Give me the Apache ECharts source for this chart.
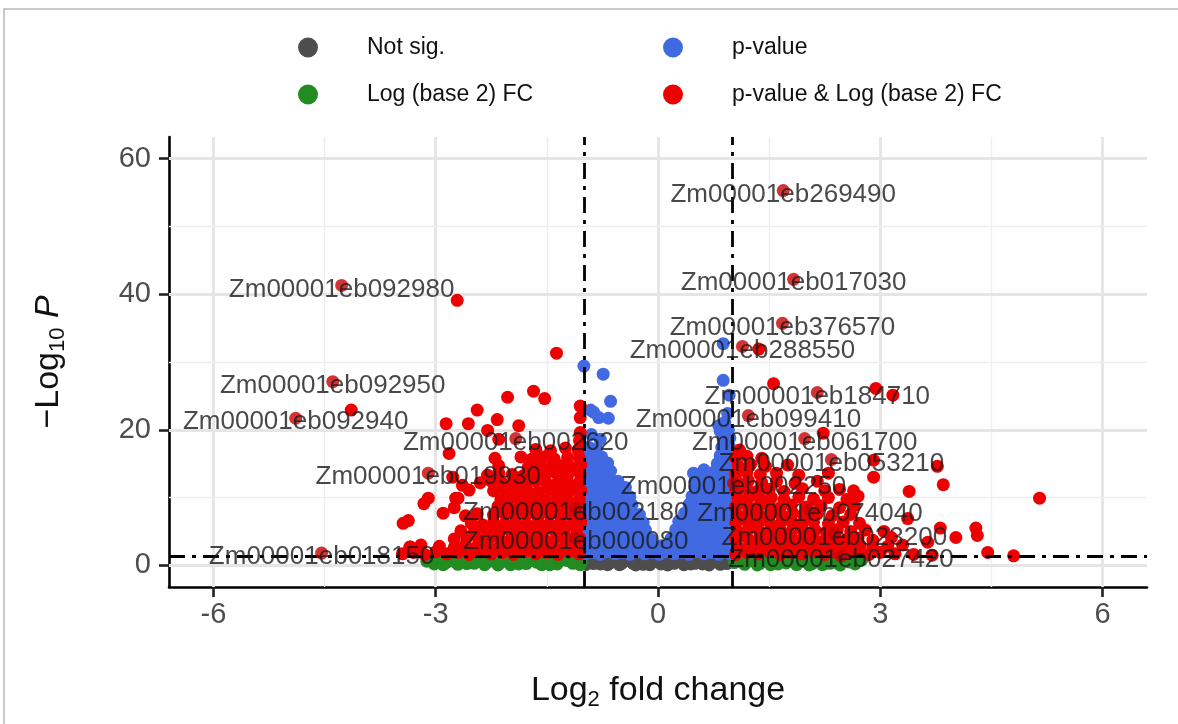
<!DOCTYPE html>
<html><head><meta charset="utf-8">
<script src="https://cdn.jsdelivr.net/npm/echarts@6/dist/echarts.min.js"></script>
<style>html,body{margin:0;padding:0;background:#fff}#c{width:1178px;height:724px}</style>
</head><body><div id="c"></div><script>
const xTicks = [-6, -3, 0, 3, 6];
const yTicks = [0, 20, 40, 60];
const xMinorGrid = [-4.5, -1.5, 1.5, 4.5];
const yMinorGrid = [10, 30, 50];
const fcCut = [-1, 1];
const pCut = 1.3;

const notSig = [
[-0.97,0.12],[-0.9,0.55],[-0.84,1.05],[-0.78,0.2],[-0.71,0.8],[-0.65,0.35],[-0.58,1.15],[-0.52,0.1],[-0.46,0.65],[-0.4,1.0],[-0.33,0.25],[-0.27,0.75],[-0.2,0.15],[-0.14,1.1],[-0.08,0.45],[-0.02,0.9],[0.04,0.2],[0.1,0.6],[0.16,1.05],[0.22,0.3],[0.28,0.8],[0.35,0.1],[0.41,1.2],[0.47,0.5],[0.53,0.9],[0.6,0.2],[0.66,1.1],[0.72,0.4],[0.78,0.85],[0.84,0.15],[0.9,1.0],[0.96,0.55],
[-0.94,0.9],[-0.87,0.25],[-0.8,0.6],[-0.74,1.2],[-0.68,0.1],[-0.61,0.5],[-0.55,0.9],[-0.49,0.3],[-0.43,1.2],[-0.36,0.5],[-0.3,0.05],[-0.24,1.2],[-0.17,0.6],[-0.11,0.1],[-0.05,1.25],[0.01,0.5],[0.07,1.2],[0.13,0.05],[0.19,0.7],[0.25,1.2],[0.32,0.5],[0.38,0.9],[0.44,0.2],[0.5,0.3],[0.56,1.25],[0.63,0.7],[0.69,0.05],[0.75,1.2],[0.81,0.5],[0.87,0.6],[0.93,0.25],[0.98,1.0]
];

const fcOnly = [
[-3.12,0.6],[-3.02,0.2],[-2.95,1.0],[-2.86,0.4],[-2.78,0.9],[-2.7,0.15],[-2.62,0.7],[-2.55,1.15],[-2.48,0.3],[-2.41,0.85],[-2.34,0.1],[-2.27,0.6],[-2.2,1.1],[-2.13,0.35],[-2.06,0.8],[-1.99,0.1],[-1.92,0.55],[-1.85,1.2],[-1.78,0.25],[-1.71,0.9],[-1.64,0.45],[-1.57,0.1],[-1.5,1.05],[-1.43,0.6],[-1.36,0.2],[-1.29,1.2],[-1.22,0.7],[-1.15,0.3],[-1.08,1.0],[-1.03,0.5],
[-3.07,1.1],[-2.9,0.1],[-2.74,0.5],[-2.58,0.25],[-2.44,1.2],[-2.3,0.9],[-2.16,0.05],[-2.02,1.2],[-1.88,0.2],[-1.74,0.6],[-1.6,1.2],[-1.46,0.1],[-1.32,0.7],[-1.18,1.15],[-1.05,0.1],
[1.03,0.4],[1.1,1.1],[1.17,0.15],[1.24,0.7],[1.31,1.2],[1.38,0.3],[1.45,0.85],[1.52,0.1],[1.59,0.6],[1.66,1.15],[1.73,0.35],[1.8,0.9],[1.87,0.1],[1.94,0.55],[2.01,1.1],[2.08,0.25],[2.15,0.8],[2.22,0.1],[2.29,0.65],[2.36,1.15],[2.43,0.3],[2.5,0.9],[2.58,0.5],[2.66,0.2],[2.75,0.8],
[1.06,1.2],[1.2,0.5],[1.34,0.05],[1.48,1.2],[1.62,0.2],[1.76,1.2],[1.9,0.6],[2.04,0.05],[2.18,1.2],[2.32,0.3],[2.46,0.05],[2.62,1.0]
];

const pOnly = [
[-0.98,1.7],[-0.88,1.9],[-0.78,1.6],[-0.68,2.0],[-0.58,1.7],[-0.48,1.9],[-0.38,1.6],[-0.28,2.0],[-0.18,1.7],[-0.08,1.9],[0.02,1.6],[0.12,2.0],[0.22,1.7],[0.32,1.9],[0.42,1.6],[0.52,2.0],[0.62,1.7],[0.72,1.9],[0.82,1.6],[0.92,2.0],[0.98,1.7],
[-0.97,3.0],[-0.87,3.2],[-0.77,2.9],[-0.67,3.1],[-0.57,2.9],[-0.47,3.2],[-0.37,3.0],[-0.27,2.8],[-0.17,3.1],[-0.07,2.8],[0.05,2.9],[0.15,3.1],[0.3,3.0],[0.4,3.2],[0.5,2.9],[0.6,3.1],[0.7,2.9],[0.8,3.2],[0.9,3.0],[0.98,3.1],
[-0.97,4.2],[-0.87,4.4],[-0.77,4.1],[-0.67,4.3],[-0.57,4.0],[-0.47,4.4],[-0.37,4.2],[-0.27,4.0],[-0.17,4.3],[-0.1,3.9],[0.18,4.0],[0.3,4.3],[0.4,4.1],[0.5,4.4],[0.6,4.2],[0.7,4.0],[0.8,4.4],[0.9,4.2],[0.98,4.3],
[-0.96,5.4],[-0.86,5.6],[-0.76,5.3],[-0.66,5.5],[-0.56,5.2],[-0.46,5.6],[-0.36,5.3],[-0.26,5.5],[-0.17,5.2],[0.24,5.3],[0.35,5.5],[0.45,5.2],[0.55,5.6],[0.65,5.4],[0.75,5.2],[0.85,5.6],[0.95,5.4],
[-0.96,6.6],[-0.86,6.8],[-0.76,6.5],[-0.66,6.7],[-0.56,6.4],[-0.46,6.8],[-0.36,6.5],[-0.27,6.7],[-0.2,6.3],[0.28,6.5],[0.4,6.8],[0.5,6.5],[0.6,6.7],[0.7,6.4],[0.8,6.8],[0.9,6.6],[0.98,6.4],
[-0.95,7.8],[-0.85,8.0],[-0.75,7.7],[-0.65,7.9],[-0.55,7.6],[-0.45,8.0],[-0.35,7.7],[-0.25,7.5],[0.36,7.7],[0.46,8.0],[0.56,7.7],[0.66,7.9],[0.76,7.6],[0.86,8.0],[0.96,7.8],
[-0.95,9.0],[-0.85,9.2],[-0.75,8.9],[-0.65,9.1],[-0.55,8.8],[-0.45,9.2],[-0.35,8.9],[0.42,9.0],[0.52,9.2],[0.62,8.9],[0.72,9.1],[0.82,8.8],[0.92,9.2],
[-0.95,10.2],[-0.85,10.4],[-0.75,10.1],[-0.65,10.3],[-0.55,10.0],[-0.45,10.4],[-0.38,10.1],[0.46,10.2],[0.56,10.4],[0.66,10.1],[0.76,10.3],[0.86,10.0],[0.96,10.4],
[-0.94,11.4],[-0.84,11.6],[-0.74,11.3],[-0.64,11.5],[-0.54,11.2],[-0.44,11.5],[0.5,11.4],[0.6,11.6],[0.7,11.3],[0.8,11.5],[0.9,11.2],[0.98,11.6],
[-0.94,12.6],[-0.84,12.8],[-0.74,12.5],[-0.64,12.7],[-0.54,12.4],[0.5,12.4],[0.62,12.8],[0.72,12.5],[0.82,12.7],[0.92,12.4],
[-0.95,13.8],[-0.85,14.0],[-0.75,13.7],[-0.64,13.9],[0.48,13.6],[0.62,14.1],[0.76,13.8],[0.88,14.0],[0.97,13.7],
[-0.96,15.0],[-0.86,15.2],[-0.76,14.9],[-0.68,15.1],[0.8,15.0],[0.92,15.2],
[-0.95,16.2],[-0.85,16.4],[-0.76,16.0],[0.84,16.2],[0.95,16.4],
[-0.93,17.4],[-0.83,17.2],[0.86,17.4],[0.96,17.6],
[0.88,18.6],[0.97,18.8],[0.84,19.8],[0.95,20.0],[0.9,21.1],[0.82,20.6],[0.94,22.4],
[-1.0,29.4],[-0.74,28.2],[-0.64,24.2],[-0.67,21.7],[-0.87,22.6],[-0.8,21.8],[-0.91,22.9],[-0.9,19.3],[-0.78,18.6],[0.88,27.3],[0.88,32.7],[0.96,25.1]
];

const both = [
[-3.45,1.7],[-3.3,1.9],[-3.15,1.6],[-3.0,2.0],[-2.85,1.7],[-2.7,1.9],[-2.55,1.6],[-2.4,2.0],[-2.25,1.7],[-2.1,1.9],[-1.95,1.6],[-1.8,2.0],[-1.65,1.7],[-1.5,1.9],[-1.35,1.6],[-1.2,2.0],[-1.06,1.7],
[-3.35,2.7],[-3.2,3.0],[-2.95,2.8],[-2.75,2.6],[-2.6,3.0],[-2.45,2.7],[-2.3,2.9],[-2.15,2.6],[-2.0,3.0],[-1.85,2.8],[-1.7,2.6],[-1.55,3.0],[-1.4,2.7],[-1.25,2.9],[-1.1,2.7],
[-2.75,3.9],[-2.58,4.1],[-2.42,3.8],[-2.27,4.0],[-2.12,3.7],[-1.97,4.1],[-1.82,3.8],[-1.67,4.0],[-1.52,3.7],[-1.37,4.1],[-1.22,3.9],[-1.06,4.0],
[-2.66,5.1],[-2.48,4.9],[-2.32,5.2],[-2.17,5.0],[-2.02,5.3],[-1.87,4.9],[-1.72,5.2],[-1.57,5.0],[-1.42,5.3],[-1.27,4.9],[-1.1,5.1],
[-2.52,6.2],[-2.37,6.0],[-2.22,6.4],[-2.07,6.1],[-1.92,6.3],[-1.77,6.0],[-1.62,6.4],[-1.47,6.1],[-1.32,6.3],[-1.17,6.0],[-1.04,6.3],
[-2.6,7.3],[-2.44,7.6],[-2.22,7.4],[-2.07,7.6],[-1.92,7.3],[-1.77,7.5],[-1.62,7.2],[-1.47,7.6],[-1.32,7.3],[-1.17,7.5],[-1.05,7.2],
[-2.75,8.5],[-2.16,8.7],[-2.01,8.4],[-1.86,8.8],[-1.71,8.5],[-1.56,8.7],[-1.41,8.4],[-1.26,8.8],[-1.1,8.6],
[-2.7,9.9],[-2.12,9.7],[-1.97,10.0],[-1.82,9.7],[-1.67,9.9],[-1.52,9.6],[-1.37,10.0],[-1.22,9.8],[-1.06,9.7],
[-2.55,11.1],[-2.22,11.0],[-2.07,11.2],[-1.92,10.9],[-1.77,11.1],[-1.62,10.8],[-1.47,11.2],[-1.32,10.9],[-1.17,11.1],[-1.04,11.0],
[-2.4,12.2],[-2.25,12.4],[-2.1,12.1],[-1.95,12.3],[-1.8,12.0],[-1.65,12.4],[-1.5,12.1],[-1.35,12.3],[-1.2,12.0],[-1.06,12.3],
[-2.3,13.3],[-2.15,13.6],[-1.97,13.4],[-1.82,13.2],[-1.67,13.5],[-1.52,13.3],[-1.37,13.6],[-1.22,13.3],[-1.05,13.5],
[-2.15,14.7],[-1.75,14.5],[-1.6,14.8],[-1.45,14.5],[-1.3,14.7],[-1.15,14.4],[-1.04,14.8],
[-2.2,15.8],[-1.85,16.0],[-1.7,15.7],[-1.55,16.0],[-1.4,15.7],[-1.22,15.9],[-1.06,15.8],
[-1.65,17.1],[-1.45,16.9],[-1.08,17.0],[-1.25,17.3],
[-2.3,19.9],[-2.15,18.6],[-2.82,16.5],[-2.77,13.0],[-2.64,11.8],[-1.06,18.4],[-1.05,19.6],[-1.05,21.8],[-1.05,23.5],
[-1.37,31.3],[-2.03,24.8],[-1.68,25.7],[-1.53,24.6],[-2.44,22.9],[-2.86,20.9],[-2.56,20.9],[-2.17,21.5],[-1.88,20.6],[-3.44,6.2],[-3.37,6.6],[-3.16,9.1],[-3.1,9.9],[-2.9,7.7],[-2.73,9.9],[-2.71,39.1],[-4.14,22.9],[-3.34,2.7],
[1.05,1.6],[1.2,1.9],[1.35,1.7],[1.5,2.0],[1.65,1.6],[1.8,1.9],[1.95,1.7],[2.1,2.0],[2.25,1.6],[2.4,1.9],[2.55,1.7],[2.7,2.0],[2.85,1.6],[3.0,1.9],[3.2,1.7],[3.45,1.6],[3.7,1.5],
[1.08,2.7],[1.23,2.9],[1.38,2.6],[1.53,2.8],[1.68,3.0],[1.83,2.7],[1.98,2.9],[2.13,2.6],[2.28,2.8],[2.43,3.0],[2.58,2.7],[2.73,2.9],[2.9,2.6],[3.1,2.8],[3.3,3.0],
[1.05,3.9],[1.2,4.1],[1.35,3.8],[1.5,4.0],[1.65,3.7],[1.8,4.1],[1.95,3.9],[2.1,4.0],[2.25,3.7],[2.4,4.1],[2.55,3.8],[2.7,4.0],[2.9,3.7],[3.15,4.1],
[1.07,5.1],[1.22,5.3],[1.37,5.0],[1.52,5.2],[1.67,4.9],[1.82,5.3],[1.97,5.0],[2.12,5.2],[2.27,4.9],[2.42,5.3],[2.6,5.0],[2.8,5.2],[3.05,5.0],
[1.05,6.3],[1.2,6.5],[1.35,6.2],[1.5,6.4],[1.65,6.1],[1.8,6.5],[1.95,6.2],[2.1,6.4],[2.3,6.1],[2.5,6.4],[2.72,6.2],
[1.07,7.5],[1.22,7.7],[1.37,7.4],[1.52,7.6],[1.67,7.3],[1.82,7.7],[1.97,7.4],[2.15,7.6],[2.35,7.3],[2.6,7.5],
[1.05,8.7],[1.2,8.9],[1.35,8.6],[1.5,8.8],[1.65,8.5],[1.8,8.9],[2.0,8.6],[2.2,8.8],[2.45,8.5],[2.65,8.8],
[1.08,9.9],[1.23,10.1],[1.38,9.8],[1.53,10.0],[1.7,9.7],[1.9,10.1],[2.1,9.8],[2.3,10.0],[2.55,9.7],
[1.05,11.1],[1.2,11.3],[1.35,11.0],[1.5,11.2],[1.7,10.9],[1.95,11.3],[2.25,11.0],[2.45,11.2],
[1.07,12.3],[1.22,12.5],[1.4,12.2],[1.6,12.4],[1.85,12.1],[2.15,12.4],
[1.05,13.5],[1.2,13.7],[1.38,13.4],[1.6,13.6],[1.9,13.3],[2.3,13.6],
[1.08,14.7],[1.25,14.9],[1.45,14.6],[1.75,14.8],
[1.05,15.9],[1.2,16.1],[1.4,15.8],[1.1,17.0],
[1.56,26.8],[2.94,26.1],[3.17,25.1],[2.23,19.5],[3.77,14.6],[2.91,15.5],[2.91,13.0],[3.85,11.9],[3.39,10.9],[5.15,9.9],[3.81,5.5],[4.02,4.1],[4.29,5.5],[4.31,4.4],[4.45,1.9],[4.8,1.4],[3.37,6.9],[3.64,3.4],[1.36,31.9],[2.64,11.0],[2.7,10.2]
];

const geneNames = ['Zm00001eb269490','Zm00001eb017030','Zm00001eb376570','Zm00001eb288550','Zm00001eb092980','Zm00001eb092950','Zm00001eb092940','Zm00001eb002620','Zm00001eb019930','Zm00001eb002180','Zm00001eb000080','Zm00001eb018150','Zm00001eb184710','Zm00001eb099410','Zm00001eb061700','Zm00001eb053210','Zm00001eb002250','Zm00001eb074040','Zm00001eb023200','Zm00001eb027420'];
const geneFC = [1.69,1.83,1.68,1.14,-4.27,-4.39,-4.89,-1.92,-3.1,-1.11,-1.11,-4.54,2.15,1.22,1.98,2.34,1.02,2.05,2.38,2.47];
const geneP = [55.3,42.2,35.7,32.3,41.3,27.1,21.7,18.7,13.6,8.4,4.0,1.8,25.5,22.1,18.7,15.6,12.1,8.2,4.7,1.4];

const FONT = '"Liberation Sans", Arial, Helvetica, sans-serif';
const COL = {ns:'#4d4d4d', fc:'#228B22', p:'#4169E1', both:'#EE0000'};

const chart = echarts.init(document.getElementById('c'), null, {renderer:'canvas'});

const gridLines = [].concat(
  xTicks.map(v => ({xAxis: v, lineStyle: {color: '#e5e5e5', width: 2.8, type: 'solid'}})),
  xMinorGrid.map(v => ({xAxis: v, lineStyle: {color: '#eeeeee', width: 1.4, type: 'solid'}})),
  yTicks.map(v => ({yAxis: v, lineStyle: {color: '#e5e5e5', width: 2.8, type: 'solid'}})),
  yMinorGrid.map(v => ({yAxis: v, lineStyle: {color: '#eeeeee', width: 1.4, type: 'solid'}}))
);

const cutLines = [].concat(
  fcCut.map(v => ({xAxis: v})),
  [{yAxis: pCut}]
);

function pts(name, data, color) {
  return {
    name: name, type: 'scatter', data: data, symbol: 'circle', symbolSize: 13, z: 3,
    itemStyle: {color: color, opacity: 1}, emphasis: {disabled: true}, silent: true
  };
}

const legendBase = {
  icon: 'circle', itemWidth: 20, itemHeight: 20, padding: 0, selectedMode: false,
  textStyle: {fontSize: 23, color: '#111', fontFamily: FONT, padding: [0, 0, 0, 44]}
};

const option = {
  animation: false,
  backgroundColor: '#ffffff',
  textStyle: {fontFamily: FONT},
  grid: {left: 169, right: 31, top: 137, bottom: 137, containLabel: false, outerBoundsMode: 'none'},
  legend: [
    Object.assign({}, legendBase, {data: ['Not sig.'], left: 298, top: 36}),
    Object.assign({}, legendBase, {data: ['p-value'], left: 663, top: 36}),
    Object.assign({}, legendBase, {data: ['Log (base 2) FC'], left: 298, top: 83}),
    Object.assign({}, legendBase, {data: ['p-value & Log (base 2) FC'], left: 663, top: 83})
  ],
  xAxis: {
    type: 'value', min: -6.6, max: 6.6,
    axisLine: {show: true, onZero: false, lineStyle: {color: '#000', width: 2.6}},
    axisTick: {show: true, length: 10, customValues: xTicks, lineStyle: {color: '#222', width: 2.6}},
    axisLabel: {customValues: xTicks, fontSize: 29, color: '#4d4d4d', margin: 13, fontFamily: FONT},
    splitLine: {show: false},
    name: '{a|Log}{s|2}{a| fold change}',
    nameLocation: 'middle', nameGap: 84,
    nameTextStyle: {rich: {
      a: {fontSize: 34, color: '#111', fontFamily: FONT},
      s: {fontSize: 22, color: '#111', fontFamily: FONT, padding: [18, 0, 0, 0]}
    }}
  },
  yAxis: {
    type: 'value', min: -3.2, max: 63.2,
    axisLine: {show: true, onZero: false, lineStyle: {color: '#000', width: 2.6}},
    axisTick: {show: true, length: 10, customValues: yTicks, lineStyle: {color: '#222', width: 2.6}},
    axisLabel: {customValues: yTicks, fontSize: 29, color: '#4d4d4d', margin: 18, fontFamily: FONT},
    splitLine: {show: false},
    name: '{a|\u2212Log}{s|10}{a| }{i|P}',
    nameLocation: 'middle', nameGap: 100, nameRotate: 90,
    nameTextStyle: {rich: {
      a: {fontSize: 34, color: '#111', fontFamily: FONT},
      s: {fontSize: 22, color: '#111', fontFamily: FONT, padding: [18, 0, 0, 0]},
      i: {fontSize: 34, color: '#111', fontFamily: FONT, fontStyle: 'italic'}
    }}
  },
  graphic: [{
    type: 'rect', silent: true, z: 100,
    shape: {x: 4, y: 9, width: 1200, height: 800},
    style: {fill: 'none', stroke: '#b8b8b8', lineWidth: 1.5}
  }],
  series: [
    {
      name: 'grid', type: 'scatter', data: [], silent: true,
      markLine: {silent: true, symbol: ['none', 'none'], label: {show: false}, z: 1, animation: false,
        emphasis: {disabled: true}, data: gridLines}
    },
    pts('Not sig.', notSig, COL.ns),
    pts('Log (base 2) FC', fcOnly, COL.fc),
    pts('p-value', pOnly, COL.p),
    pts('p-value & Log (base 2) FC', both, COL.both),
    {
      name: 'cutoffs', type: 'scatter', data: [], silent: true,
      markLine: {silent: true, symbol: ['none', 'none'], label: {show: false}, z: 5, animation: false,
        emphasis: {disabled: true},
        lineStyle: {color: '#000', width: 2.8, type: [16, 7, 4, 7]}, data: cutLines}
    },
    {
      name: 'labelled', type: 'scatter', z: 6, silent: true, symbol: 'circle', symbolSize: 13,
      itemStyle: {color: '#c80000'}, emphasis: {disabled: true},
      data: geneNames.map((n, i) => ({name: n, value: [geneFC[i], geneP[i]]})),
      label: {show: true, position: 'inside', offset: [0, 4], formatter: p => p.name,
        fontSize: 26, color: '#1a1a1a', fontFamily: FONT}
    }
  ]
};
chart.setOption(option);
</script></body></html>
